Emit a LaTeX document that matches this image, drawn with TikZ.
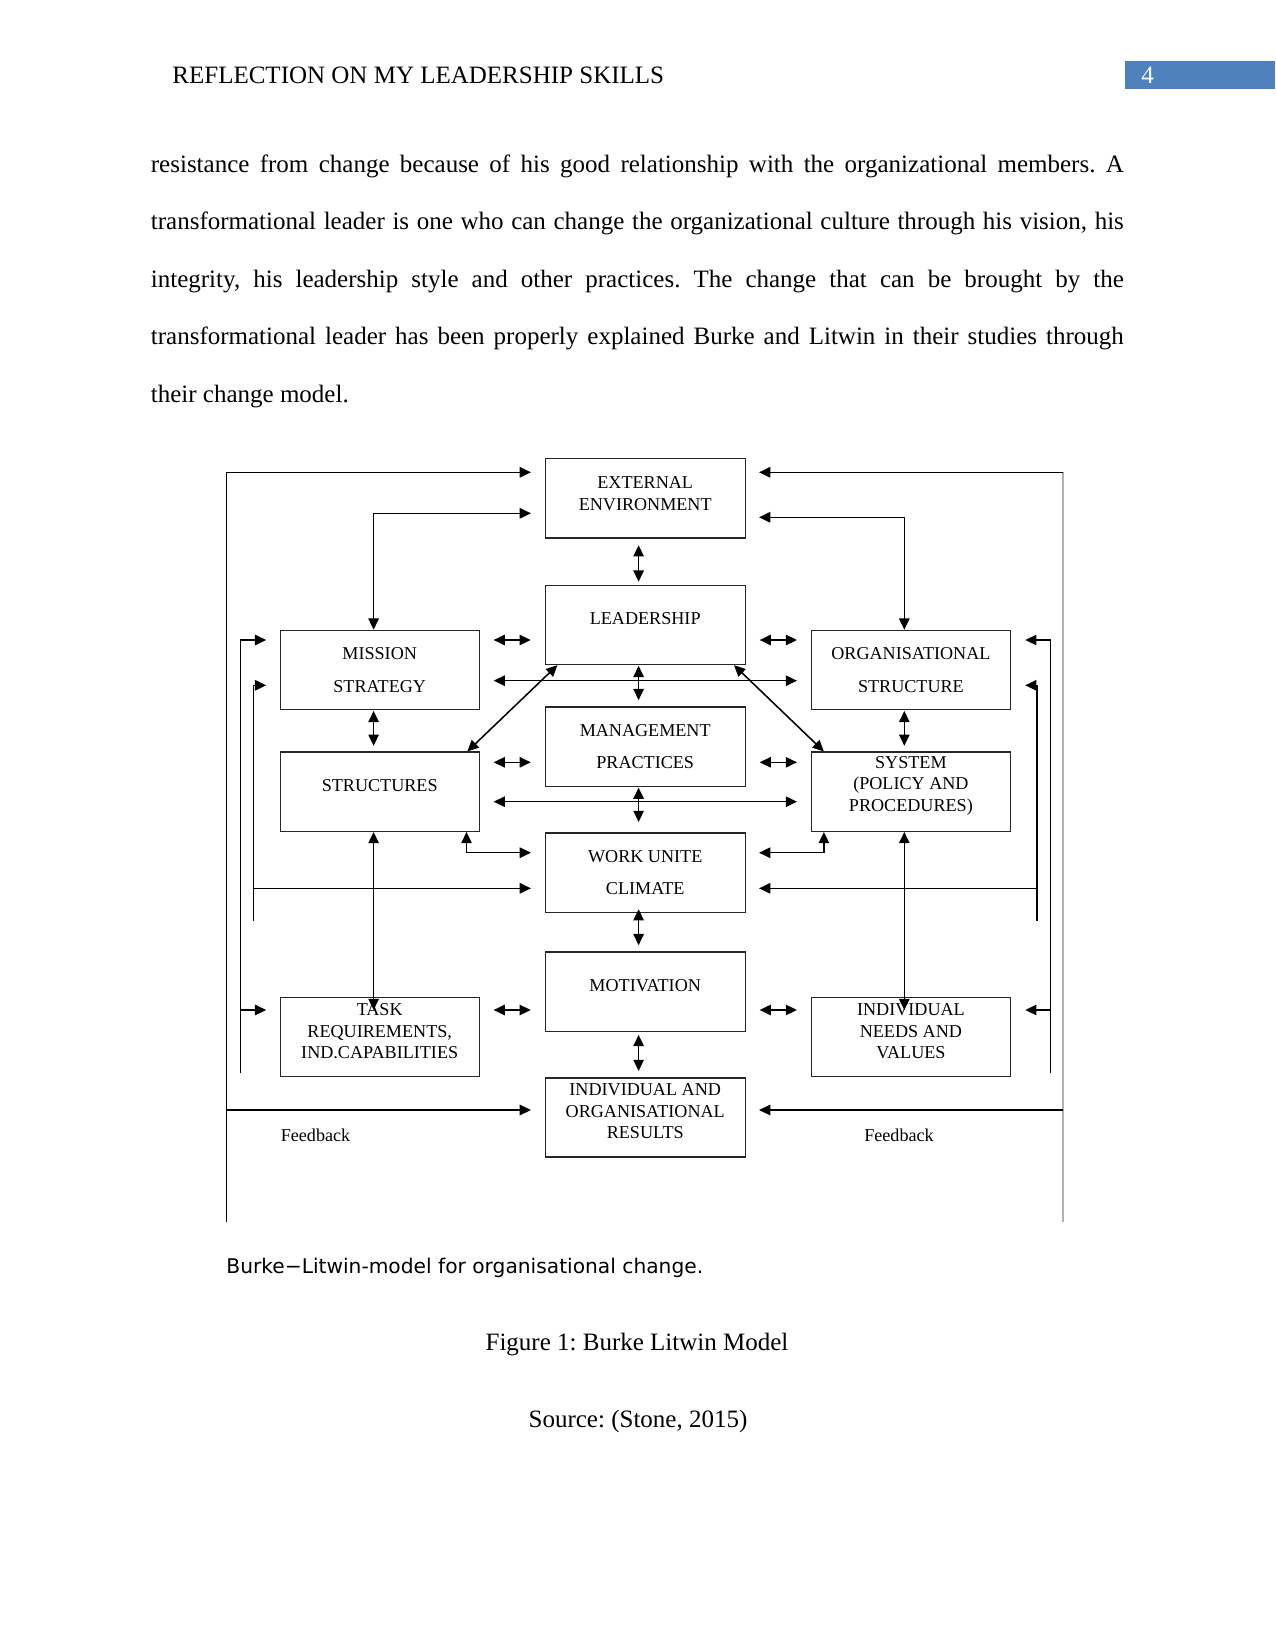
\documentclass[tikz,border=0pt]{standalone}
\usepackage{fontspec}
\setmainfont{Liberation Serif}
\newfontfamily\capfont{DejaVu Sans}
\usetikzlibrary{arrows.meta}
\definecolor{pgblue}{RGB}{79,129,189}
\frenchspacing
\begin{document}
\begin{tikzpicture}[x=0.48pt,y=-0.48pt,
  box/.style={draw=black!85, line width=0.65pt, minimum width=96pt, minimum height=38pt, inner sep=0pt},
  sbox/.style={box, minimum width=95.5pt},
  txt/.style={inner sep=0pt, align=center, font=\fontsize{8.7}{10.3}\selectfont},
  ltxt/.style={inner sep=0pt, align=center, font=\fontsize{8.7}{15.5}\selectfont},
  body/.style={inner sep=0pt, font=\fontsize{12}{14}\selectfont},
  ln/.style={line width=0.75pt, black},
  arr/.style={ln, -{Triangle[length=5.4pt,width=5pt]}},
  dbl/.style={ln, {Triangle[length=5.4pt,width=5pt]}-{Triangle[length=5.4pt,width=5pt]}},
  hd/.style={dbl, shorten <=6.6pt, shorten >=6.6pt},
  vd/.style={dbl, shorten <=0.3pt, shorten >=3pt}
]
\fill[white] (0,0) rectangle (1275,1651);
\useasboundingbox (0,0) rectangle (1275,1651);

% ---------- page header ----------
\node[body, anchor=base west] (hdr) at (172,83.3) {REFLECTION ON MY LEADERSHIP SKILLS};
\fill[pgblue] (1125,60.7) rectangle (1275,89.3);
\node[body, anchor=base west, text=white] (pnum) at (1141,84) {4};

% ---------- paragraph ----------
\node[body, anchor=base west] (p1) at (150.5,172.5) {\makebox[467pt][s]{resistance from change because of his good relationship with the organizational members. A}};
\node[body, anchor=base west] (p2) at (150.5,229.9) {\makebox[467pt][s]{transformational leader is one who can change the organizational culture through his vision, his}};
\node[body, anchor=base west] (p3) at (150.5,287.3) {\makebox[467pt][s]{integrity, his leadership style and other practices. The change that can be brought by the}};
\node[body, anchor=base west] (p4) at (150.5,344.7) {\makebox[467pt][s]{transformational leader has been properly explained Burke and Litwin in their studies through}};
\node[body, anchor=base west] (p5) at (150.5,402.1) {their change model.};

% ---------- boxes ----------
\node[box]  (ext)  at (645.2,498.3) {};
\node[box]  (lead) at (645.2,624.9) {};
\node[box]  (mgmt) at (645.2,746.7) {};
\node[box]  (work) at (645.2,872.7) {};
\node[box]  (mot)  at (645.2,991.7) {};
\node[box]  (res)  at (645.2,1117.5) {};
\node[sbox] (mis)  at (379.7,670) {};
\node[sbox] (str)  at (379.7,791.7) {};
\node[sbox] (task) at (379.7,1037.2) {};
\node[sbox] (org)  at (910.9,670) {};
\node[sbox] (sys)  at (910.9,791.7) {};
\node[sbox] (need) at (910.9,1037.2) {};

\node[txt, yshift=2.3pt]  (extT)  at (ext)  {EXTERNAL\\ENVIRONMENT};
\node[txt, yshift=2.9pt]  (leadT) at (lead) {LEADERSHIP};
\node[ltxt]               (mgmtT) at (mgmt) {MANAGEMENT\\PRACTICES};
\node[ltxt]               (workT) at (work) {WORK UNITE\\CLIMATE};
\node[txt, yshift=2.9pt]  (motT)  at (mot)  {MOTIVATION};
\node[txt, yshift=2.9pt]  (resT)  at (res)  {INDIVIDUAL AND\\ORGANISATIONAL\\RESULTS};
\node[ltxt]               (misT)  at (mis)  {MISSION\\STRATEGY};
\node[txt, yshift=2.9pt]  (strT)  at (str)  {STRUCTURES};
\node[txt, yshift=2.9pt]  (taskT) at (task) {TASK\\REQUIREMENTS,\\IND.CAPABILITIES};
\node[ltxt]               (orgT)  at (org)  {ORGANISATIONAL\\STRUCTURE};
\node[txt, yshift=2.9pt]  (sysT)  at (sys)  {SYSTEM\\(POLICY AND\\PROCEDURES)};
\node[txt, yshift=2.9pt]  (needT) at (need) {INDIVIDUAL\\NEEDS AND\\VALUES};

\node[txt] (fbl) at (315.5,1135) {Feedback};
\node[txt] (fbr) at (899,1135) {Feedback};

% ---------- helper coordinates ----------
\coordinate (cL) at (373.6,0);
\coordinate (cM) at (638.6,0);
\coordinate (cR) at (904.3,0);
\coordinate (xo)  at (226.4,0);
\coordinate (xi1) at (240.4,0);
\coordinate (xi2) at (253.6,0);
\coordinate (xr2) at (1037,0);
\coordinate (xr1) at (1050.4,0);
\coordinate (xro) at (1063,0);
\coordinate (y0)  at (0,472.3);
\coordinate (yL1) at (0,513.3);
\coordinate (yR1) at (0,517.3);
\coordinate (y2)  at (0,640);
\coordinate (y3)  at (0,680.7);
\coordinate (y3b) at (0,685.3);
\coordinate (y4)  at (0,762.3);
\coordinate (y5)  at (0,801.7);
\coordinate (y6)  at (0,852.7);
\coordinate (y7)  at (0,888.3);
\coordinate (yb2) at (0,921);
\coordinate (y8)  at (0,1010);
\coordinate (yb1) at (0,1073.3);
\coordinate (y9)  at (0,1110);
\coordinate (ybot) at (0,1222.3);

% ---------- central vertical double arrows ----------
\draw[vd, shorten <=3.2pt, shorten >=1.4pt] (cM |- ext.south) -- (cM |- lead.north);
\draw[vd] (cM |- lead.south) -- (cM |- mgmt.north);
\draw[vd, shorten >=5pt] (cM |- mgmt.south) -- (cM |- work.north);
\draw[vd, shorten <=-1.8pt] (cM |- work.south) -- (cM |- mot.north);
\draw[vd, shorten <=1.4pt] (cM |- mot.south) -- (cM |- res.north);
\draw[vd, shorten >=2.7pt] (cL |- mis.south) -- (cL |- str.north);
\draw[vd, shorten >=2.7pt] (cR |- org.south) -- (cR |- sys.north);

% ---------- horizontal double arrows ----------
\draw[hd] (mis.east |- y2) -- (lead.west |- y2);
\draw[hd] (lead.east |- y2) -- (org.west |- y2);
\draw[hd] (str.east |- y4) -- (mgmt.west |- y4);
\draw[hd] (mgmt.east |- y4) -- (sys.west |- y4);
\draw[hd] (task.east |- y8) -- (mot.west |- y8);
\draw[hd] (mot.east |- y8) -- (need.west |- y8);
\draw[hd] (mis.east |- y3) -- (org.west |- y3);
\draw[hd] (str.east |- y5) -- (sys.west |- y5);

% ---------- diagonals ----------
\draw[dbl] ([xshift=6.2pt]lead.south west) -- ([xshift=-6pt]str.north east);
\draw[dbl] ([xshift=-5.7pt]lead.south east) -- ([xshift=6.3pt]sys.north west);

% ---------- elbows to work unit climate ----------
\draw[dbl, shorten >=6.5pt] ([xshift=-6.4pt]str.south east) |- (work.west |- y6);
\draw[dbl, shorten >=6.3pt] ([xshift=6.3pt]sys.south west) |- (work.east |- y6);

% ---------- long verticals ----------
\draw[dbl] (cL |- str.south) -- (cL |- y8);
\draw[dbl] (cR |- sys.south) -- (cR |- y8);

% ---------- top links to external environment ----------
\draw[dbl, shorten <=6.5pt] (ext.west |- yL1) -| (cL |- mis.north);
\draw[dbl, shorten <=6.3pt] (ext.east |- yR1) -| (cR |- org.north);

% ---------- outer feedback loops ----------
\draw[arr, shorten >=6.5pt] (xo |- ybot) |- (ext.west |- y0);
\draw[arr, shorten >=6.5pt] (xo |- y9) -- (res.west |- y9);
\draw[black!30, line width=0.5pt] (xro |- y0) -- (xro |- ybot);
\draw[arr, shorten >=6.3pt] (xro |- y0) -- (ext.east |- y0);
\draw[arr, shorten >=6.3pt] (xro |- y9) -- (res.east |- y9);

% ---------- inner left loops ----------
\draw[arr, shorten >=6.4pt] (xi1 |- yb1) |- (mis.west |- y2);
\draw[arr, shorten >=6.4pt] (xi1 |- y8) -- (task.west |- y8);
\draw[arr, shorten >=6.4pt] (xi2 |- yb2) |- (mis.west |- y3b);
\draw[arr, shorten >=6.5pt] (xi2 |- y7) -- (work.west |- y7);

% ---------- inner right loops ----------
\draw[arr, shorten >=6.8pt] (xr1 |- yb1) |- (org.east |- y2);
\draw[arr, shorten >=6.8pt] (xr1 |- y8) -- (need.east |- y8);
\draw[arr, shorten >=6.8pt] (xr2 |- yb2) |- (org.east |- y3b);
\draw[arr, shorten >=6.3pt] (xr2 |- y7) -- (work.east |- y7);

% ---------- captions ----------
\node[inner sep=0pt, anchor=base west, font=\capfont\fontsize{9.7}{12}\selectfont] (cap) at (226,1273.3) {Burke−Litwin-model for organisational change.};
\node[body, anchor=base] (fig) at (637,1350) {Figure 1: Burke Litwin Model};
\node[body, anchor=base] (src) at (638,1427) {Source: (Stone, 2015)};
\end{tikzpicture}
\end{document}
